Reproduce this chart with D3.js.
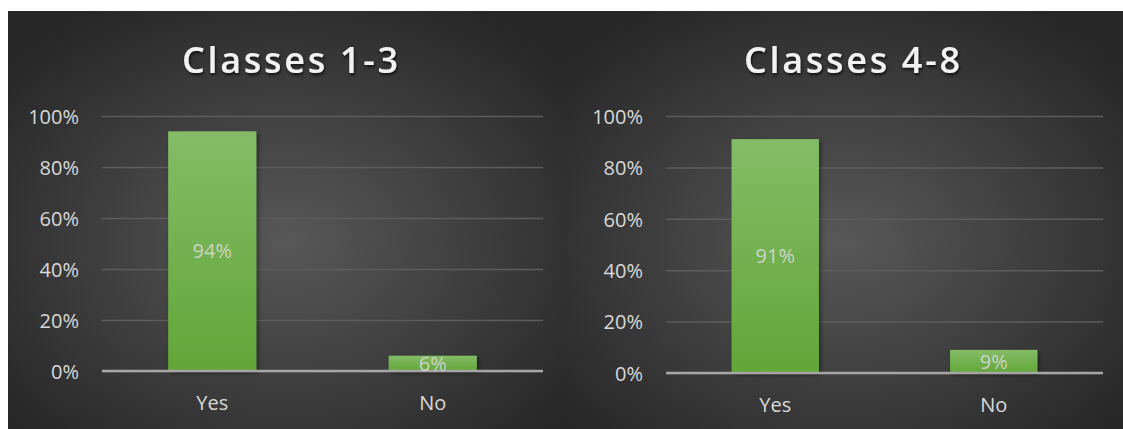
<!DOCTYPE html>
<html>
<head>
<meta charset="utf-8">
<script src="https://cdn.jsdelivr.net/npm/d3@7"></script>
<style>
  html, body { margin: 0; padding: 0; background: #ffffff; }
  svg { display: block; }
  text { font-family: "Open Sans", "Noto Sans", sans-serif; }
</style>
</head>
<body>
<svg id="chart" width="1123" height="429"></svg>
<script>
// Survey answers per class group
const categories = ["Yes", "No"];
const titles = ["Classes 1-3", "Classes 4-8"];
const valuesClasses1to3 = [0.94, 0.06];
const valuesClasses4to8 = [0.91, 0.09];
const tickValues = [0, 0.2, 0.4, 0.6, 0.8, 1.0];

const svg = d3.select("#chart");
const defs = svg.append("defs");

// Dark radial background for each panel
const bg = defs.append("radialGradient").attr("id", "panelBg")
  .attr("cx", "50%").attr("cy", "55%").attr("r", "65%");
bg.append("stop").attr("offset", "0%").attr("stop-color", "#585858");
bg.append("stop").attr("offset", "100%").attr("stop-color", "#272727");

// Green bar fill, lighter at the top
const barGrad = defs.append("linearGradient").attr("id", "barFill")
  .attr("x1", 0).attr("y1", 0).attr("x2", 0).attr("y2", 1);
barGrad.append("stop").attr("offset", "0%").attr("stop-color", "#84bc67");
barGrad.append("stop").attr("offset", "100%").attr("stop-color", "#62a638");

const shadow = defs.append("filter").attr("id", "barShadow")
  .attr("x", "-20%").attr("y", "-20%").attr("width", "150%").attr("height", "150%");
shadow.append("feDropShadow").attr("dx", 2).attr("dy", 2).attr("stdDeviation", 2)
  .attr("flood-color", "#000").attr("flood-opacity", 0.4);

const titleShadow = defs.append("filter").attr("id", "titleShadow")
  .attr("x", "-10%").attr("y", "-30%").attr("width", "120%").attr("height", "160%");
titleShadow.append("feDropShadow").attr("dx", 1).attr("dy", 2).attr("stdDeviation", 1.5)
  .attr("flood-color", "#000").attr("flood-opacity", 0.7);

const panels = [
  { title: titles[0], values: valuesClasses1to3, x0: 8, x1: 563, plotL: 102, plotR: 543, top: 116, bottom: 371, titleX: 290 },
  { title: titles[1], values: valuesClasses4to8, x0: 563, x1: 1123, plotL: 666, plotR: 1103, top: 116, bottom: 373, titleX: 852 }
];

panels.forEach(p => {
  const g = svg.append("g");

  g.append("rect")
    .attr("x", p.x0).attr("y", 11)
    .attr("width", p.x1 - p.x0).attr("height", 429 - 11)
    .attr("fill", "url(#panelBg)");

  const x = d3.scaleBand().domain(categories)
    .range([p.plotL, p.plotR]).paddingInner(0.6).paddingOuter(0.3);
  const y = d3.scaleLinear().domain([0, 1]).range([p.bottom, p.top]);

  // Title
  g.append("text")
    .attr("x", p.titleX).attr("y", 73)
    .attr("text-anchor", "middle")
    .attr("font-size", 36).attr("font-weight", 600)
    .attr("fill", "#f2f2f2")
    .attr("textLength", 216).attr("lengthAdjust", "spacing")
    .attr("filter", "url(#titleShadow)")
    .text(p.title);

  // Value axis with gridlines
  const yAxis = d3.axisLeft(y).tickValues(tickValues)
    .tickFormat(d3.format(".0%"))
    .tickSize(-(p.plotR - p.plotL)).tickPadding(23);
  const ya = g.append("g").attr("transform", `translate(${p.plotL},0)`).call(yAxis);
  ya.select(".domain").remove();
  ya.selectAll(".tick line").attr("stroke", "#5c5c5c").attr("stroke-width", 1.5);
  ya.selectAll(".tick text")
    .attr("fill", "#d9d9d9").attr("font-size", 20)
    .attr("dy", "0.36em");

  // Bars
  g.selectAll("rect.bar").data(p.values).join("rect")
    .attr("class", "bar")
    .attr("x", (d, i) => x(categories[i]))
    .attr("width", x.bandwidth())
    .attr("y", d => y(d))
    .attr("height", d => y(0) - y(d))
    .attr("fill", "url(#barFill)")
    .attr("filter", "url(#barShadow)");

  // Category axis line
  g.append("line")
    .attr("x1", p.plotL).attr("x2", p.plotR)
    .attr("y1", y(0)).attr("y2", y(0))
    .attr("stroke", "#a6a6a6").attr("stroke-width", 2.5);

  // Category labels
  const xAxis = d3.axisBottom(x).tickSize(0).tickPadding(25);
  const xa = g.append("g").attr("transform", `translate(0,${y(0)})`).call(xAxis);
  xa.select(".domain").remove();
  xa.selectAll(".tick text").attr("fill", "#d9d9d9").attr("font-size", 20);

  // Value labels centred in each bar
  g.selectAll("text.val").data(p.values).join("text")
    .attr("class", "val")
    .attr("x", (d, i) => x(categories[i]) + x.bandwidth() / 2)
    .attr("y", d => (y(d) + y(0)) / 2)
    .attr("dy", "0.36em")
    .attr("text-anchor", "middle")
    .attr("font-size", 20)
    .attr("fill", "#d9d9d9")
    .attr("fill-opacity", 0.9)
    .text(d => d3.format(".0%")(d));
});
</script>
</body>
</html>
